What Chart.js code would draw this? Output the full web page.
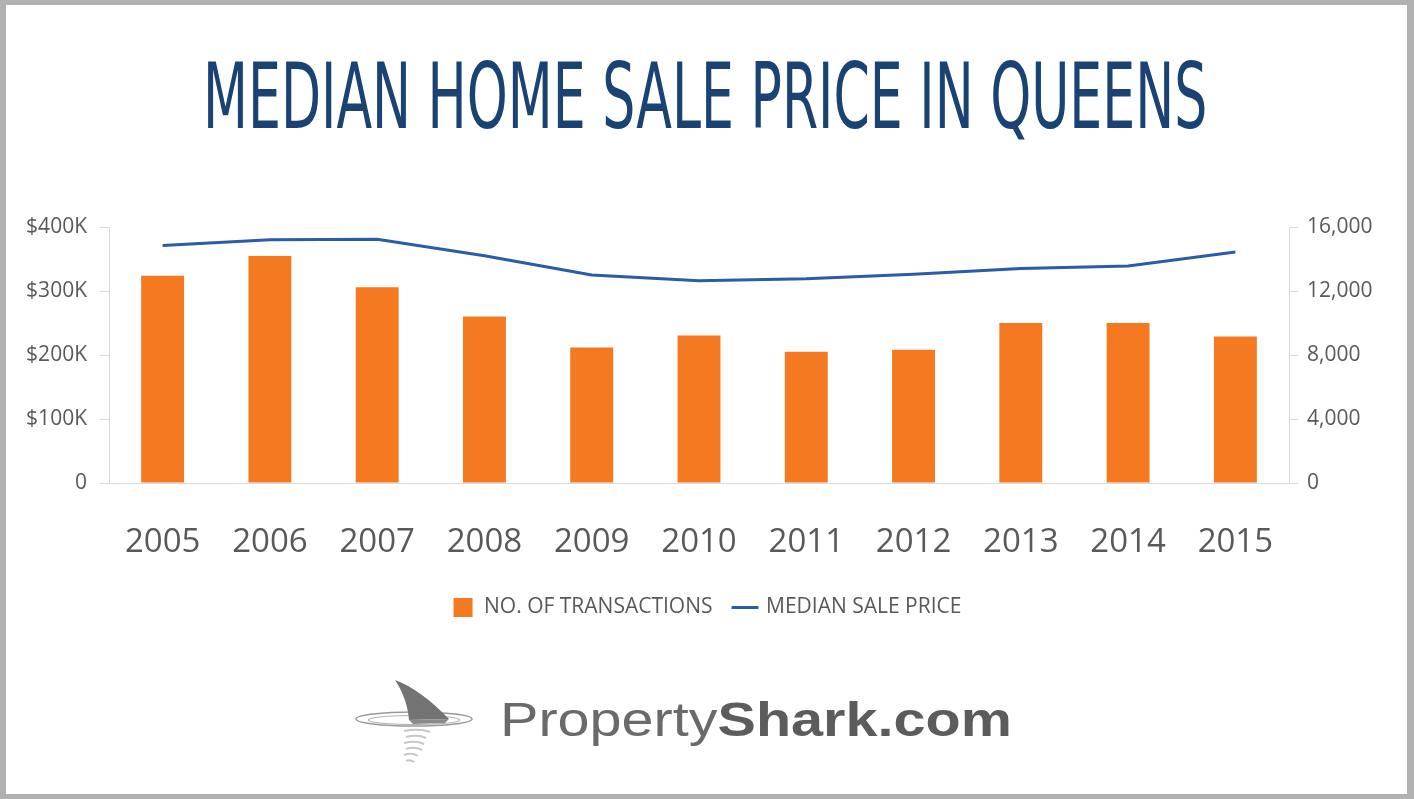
<!DOCTYPE html>
<html><head><meta charset="utf-8">
<script src="https://cdn.jsdelivr.net/npm/chart.js@4.4.0/dist/chart.umd.min.js"></script>
<style>
html,body{margin:0;padding:0;background:#fff;width:1414px;height:799px;overflow:hidden;}
#frame{position:absolute;left:0;top:0;width:1414px;height:799px;box-sizing:border-box;border-style:solid;border-color:#b1b1b1;border-width:5px 7px 5px 6px;}
#titleSpan{position:absolute;left:705px;top:52px;white-space:nowrap;font-family:"DejaVu Sans Condensed","DejaVu Sans",sans-serif;font-stretch:condensed;font-size:90px;line-height:90px;color:#1a4373;transform-origin:0 50%;}
#wrap{position:absolute;left:0;top:200px;width:1414px;height:440px;}
#logoText{position:absolute;left:500px;top:696px;white-space:nowrap;font-family:"Liberation Sans",Arial,sans-serif;font-size:48px;line-height:48px;transform-origin:left center;}
#logoText .a{color:#6a6a6a;}
#logoText .b{color:#5c5c5c;font-weight:bold;}
#fin{position:absolute;left:352px;top:676px;}
</style></head>
<body>
<div id="frame"></div>
<span id="titleSpan">MEDIAN HOME SALE PRICE IN QUEENS</span>
<div id="wrap"><canvas id="c" width="1414" height="440"></canvas></div>
<svg id="fin" width="125" height="90" viewBox="0 0 125 90">
  <ellipse cx="62" cy="43" rx="58" ry="7" fill="none" stroke="#9a9a9a" stroke-width="1.5"/>
  <ellipse cx="62" cy="44" rx="46" ry="4.5" fill="none" stroke="#b0b0b0" stroke-width="1"/>
  <path d="M43 4 C 60 10, 80 25, 97 43 L 57 44 C 56 30, 51 16, 43 4 Z" fill="#737373"/>
  <path d="M57 44 L97 43 L93 47 L61 48 Z" fill="#8a8a8a"/>
  <g stroke="#c8c8c8" stroke-width="2" fill="none">
    <path d="M52 55 Q 68 52 78 56"/>
    <path d="M54 61 Q 66 58 74 62"/>
    <path d="M52 67 Q 64 64 72 68"/>
    <path d="M54 73 Q 62 70 70 74"/>
    <path d="M52 79 Q 60 76 66 80"/>
    <path d="M54 85 Q 58 83 62 86"/>
  </g>
</svg>
<div id="logoText"><span class="a">Property</span><span class="b">Shark.com</span></div>
<script>
// ---- data ----
const years = ['2005','2006','2007','2008','2009','2010','2011','2012','2013','2014','2015'];
const transactions = [12950, 14180, 12240, 10400, 8470, 9220, 8200, 8330, 10000, 10000, 9160];
const medianPrice = [371000, 380000, 381000, 355000, 325000, 316000, 319000, 326000, 335000, 339000, 361000];
const priceTicks = [0, 100000, 200000, 300000, 400000];
const countTicks = [0, 4000, 8000, 12000, 16000];
const seriesNames = ['NO. OF TRANSACTIONS', 'MEDIAN SALE PRICE'];

// ---- title / logo fitting ----
const ts = document.getElementById('titleSpan');
const tw = ts.offsetWidth;
ts.style.transform = 'translateX(-502px) scaleX(' + (1004 / tw) + ')';
const lt = document.getElementById('logoText');
lt.style.transform = 'scaleX(' + (512 / lt.offsetWidth) + ')';

Chart.defaults.font.family = '"Open Sans", sans-serif';
Chart.defaults.color = '#595959';

const axisColor = '#d9d9d9';

new Chart(document.getElementById('c'), {
  data: {
    labels: years,
    datasets: [
      {
        type: 'line',
        label: seriesNames[1],
        data: medianPrice,
        yAxisID: 'yPrice',
        borderColor: '#2b5ca8',
        backgroundColor: '#2b5ca8',
        borderWidth: 3,
        pointRadius: 0,
        pointStyle: 'line',
        tension: 0,
        order: 0
      },
      {
        type: 'bar',
        label: seriesNames[0],
        data: transactions,
        yAxisID: 'yCount',
        backgroundColor: '#f47920',
        borderWidth: 0,
        barPercentage: 0.4,
        categoryPercentage: 1.0,
        pointStyle: 'rect',
        order: 1
      }
    ]
  },
  options: {
    responsive: false,
    animation: false,
    layout: { padding: { top: 27, bottom: 12, left: 0, right: 0 } },
    plugins: {
      title: { display: false },
      tooltip: { enabled: false },
      legend: {
        position: 'bottom',
        reverse: true,
        labels: {
          usePointStyle: true,
          boxHeight: 19,
          font: { size: 21 },
          color: '#595959',
          padding: 22
        }
      }
    },
    scales: {
      x: {
        position: 'bottom',
        grid: { display: false, drawTicks: false },
        border: { display: true, color: axisColor, width: 1 },
        ticks: { font: { size: 33 }, color: '#595959', padding: 40, maxRotation: 0 },
        afterFit: s => { s.height = 92; }
      },
      yPrice: {
        position: 'left',
        min: 0, max: 400000,
        grid: { drawOnChartArea: false, drawTicks: true, tickLength: 9, color: axisColor },
        border: { display: true, color: axisColor },
        afterBuildTicks: s => { s.ticks = priceTicks.map(v => ({ value: v })); },
        ticks: {
          font: { size: 21 }, color: '#595959', padding: 13,
          callback: v => v === 0 ? '0' : '$' + (v / 1000) + 'K'
        },
        afterFit: s => { s.width = 109; }
      },
      yCount: {
        position: 'right',
        min: 0, max: 16000,
        grid: { drawOnChartArea: false, drawTicks: true, tickLength: 9, color: axisColor },
        border: { display: true, color: axisColor },
        afterBuildTicks: s => { s.ticks = countTicks.map(v => ({ value: v })); },
        ticks: {
          font: { size: 21 }, color: '#595959', padding: 9,
          callback: v => v.toLocaleString('en-US')
        },
        afterFit: s => { s.width = 125; }
      }
    }
  }
});
</script>
</body></html>
